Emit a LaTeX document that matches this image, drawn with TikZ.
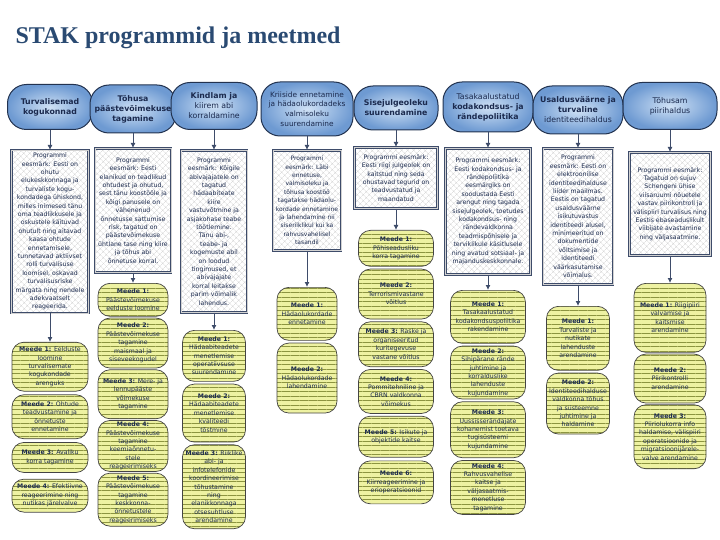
\documentclass[tikz,border=0pt]{standalone}
\usepackage{fontspec}
\setmainfont{DejaVu Sans}
\newfontfamily\titlefont{Liberation Serif}
\usepackage{xcolor}
\usetikzlibrary{arrows.meta,positioning,patterns.meta}
\definecolor{titleblue}{HTML}{2A4A72}
\definecolor{hdin}{HTML}{CFE1F5}
\definecolor{hdout}{HTML}{6E9AD2}
\definecolor{hdline}{HTML}{22324F}
\definecolor{navy}{HTML}{1B2A4E}
\definecolor{progline}{HTML}{3E4C6A}
\definecolor{measfill}{HTML}{EEF2A2}
\definecolor{measline}{HTML}{8C9440}
\definecolor{measdraw}{HTML}{444444}

\begin{document}
\begin{tikzpicture}[x=1pt, y=-1pt,
goal/.style={draw=hdline, line width=1pt, rounded corners=19pt, inner color=hdin, outer color=hdout, align=center, text=navy, font=\fontsize{7.8}{10}\selectfont, inner sep=1pt},
goalb/.style={goal, font=\fontsize{7.8}{10}\selectfont\bfseries},
prog/.style={draw=progline, line width=0.9pt, double=gray!35, double distance=0.7pt, preaction={fill=white}, pattern={Hatch[angle=45,distance=4pt,line width=0.3pt]}, pattern color=gray!35, align=center, text=navy, font=\fontsize{6.2}{8.4}\selectfont, inner sep=1pt, anchor=north},
measure/.style={draw=measdraw, line width=0.7pt, rounded corners=12pt, preaction={fill=measfill}, pattern={Lines[angle=0,distance=4.5pt,line width=0.4pt]}, pattern color=measline, align=center, text=navy, font=\fontsize{6.2}{8.4}\selectfont, inner sep=1pt},
arrow/.style={-{Latex[length=5pt,width=5pt]}, line width=0.9pt, draw=progline}
]
\useasboundingbox (0,0) rectangle (720,540);
\node[anchor=base west, text=titleblue, font=\titlefont\fontsize{24}{28}\selectfont\bfseries] (title) at (12,44) {STAK programmid ja meetmed};

\node[goalb, minimum width=85, minimum height=45] (h1) at (50,107) {Turvalisemad\\kogukonnad};
\node[goalb, minimum width=86, minimum height=48] (h2) at (133,109) {Tõhusa\\päästevõimekuse\\tagamine};
\node[goal, minimum width=86, minimum height=47] (h3) at (214,106) {\textbf{Kindlam ja}\\kiirem abi\\korraldamine};
\node[goal, minimum width=92, minimum height=54, font=\fontsize{7.4}{9.6}\selectfont] (h4) at (307,109) {Kriiside ennetamine\\ja hädaolukordadeks\\valmisoleku\\suurendamine};
\node[goalb, minimum width=84, minimum height=44] (h5) at (396,108) {Sisejulgeoleku\\suurendamine};
\node[goal, minimum width=90, minimum height=50] (h6) at (488,107) {Tasakaalustatud\\\textbf{kodakondsus- ja}\\\textbf{rändepoliitika}};
\node[goal, minimum width=90, minimum height=48] (h7) at (578,110) {\textbf{Usaldusväärne ja}\\\textbf{turvaline}\\identiteedihaldus};
\node[goal, minimum width=94, minimum height=47] (h8) at (670,106) {Tõhusam\\piirihaldus};

\node[prog, minimum width=77, minimum height=163] (p1) at (50,150) {Programmi\\eesmärk: Eesti on\\ohutu\\elukeskkonnaga ja\\turvaliste kogu-\\kondadega ühiskond,\\milles inimesed tänu\\oma teadlikkusele ja\\oskustele käituvad\\ohutult ning aitavad\\kaasa ohtude\\ennetamisele,\\tunnetavad aktiivset\\rolli turvalisuse\\loomisel, oskavad\\turvalisusriske\\märgata ning nendele\\adekvaatselt\\reageerida.};
\node[prog, minimum width=76, minimum height=124] (p2) at (133,148) {Programmi\\eesmärk: Eesti\\elanikud on teadlikud\\ohtudest ja ohutud,\\sest tänu koostööle ja\\kõigi panusele on\\vähenenud\\õnnetusse sattumise\\risk, tagatud on\\päästevõimekuse\\ühtlane tase ning kiire\\ja tõhus abi\\õnnetuse korral.};
\node[prog, minimum width=66, minimum height=162] (p3) at (214,150) {Programmi\\eesmärk: Kõigile\\abivajajatele on\\tagatud\\hädaabiteate\\kiire\\vastuvõtmine ja\\asjakohase teabe\\töötlemine.\\Tänu abi-,\\teabe- ja\\kogemuste abil\\on loodud\\tingimused, et\\abivajajate\\korral leitakse\\parim võimalik\\lahendus.};
\node[prog, minimum width=68, minimum height=100, font=\fontsize{6}{8.4}\selectfont] (p4) at (307,150) {Programmi\\eesmärk: Läbi\\ennetuse,\\valmisoleku ja\\tõhusa koostöö\\tagatakse hädaolu-\\kordade ennetamine\\ja lahendamine nii\\siseriiklikul kui ka\\rahvusvahelisel\\tasandil};
\node[prog, minimum width=83, minimum height=61] (p5) at (396,147) {Programmi eesmärk:\\Eesti riigi julgeolek on\\kaitstud ning seda\\ohustavad tegurid on\\teadvustatud ja\\maandatud};
\node[prog, minimum width=85, minimum height=126] (p6) at (488,148) {Programmi eesmärk:\\Eesti kodakondsus- ja\\rändepoliitika\\eesmärgiks on\\soodustada Eesti\\arengut ning tagada\\sisejulgeolek, toetudes\\kodakondsus- ning\\rändevaldkonna\\teadmispõhisele ja\\terviklikule käsitlusele\\ning avatud sotsiaal- ja\\majanduskeskkonnale.};
\node[prog, minimum width=70, minimum height=136] (p7) at (578,148) {Programmi\\eesmärk: Eesti on\\elektroonilise\\identiteedihalduse\\liider maailmas.\\Eestis on tagatud\\usaldusväärne\\isikutuvastus\\identiteedi alusel,\\minimeeritud on\\dokumentide\\võltsimise ja\\identiteedi\\väärkasutamise\\võimalus.};
\node[prog, minimum width=81, minimum height=103] (p8) at (670,152) {Programmi eesmärk:\\Tagatud on sujuv\\Schengeni ühise\\viisaruumi nõuetele\\vastav piirikontroll ja\\välispiiri turvalisus ning\\Eestis ebaseaduslikult\\viibijate avastamine\\ning väljasaatmine.};

\node[measure, anchor=north, minimum width=76, minimum height=49] (m11) at (50,342) {\textbf{Meede 1:} Eelduste\\loomine\\turvalisemate\\kogukondade\\arenguks};
\node[measure, below=3pt of m11, minimum width=76, minimum height=44] (m12) {\textbf{Meede 2:} Ohtude\\teadvustamine ja\\õnnetuste\\ennetamine};
\node[measure, below=3pt of m12, minimum width=76, minimum height=30] (m13) {\textbf{Meede 3:} Avaliku\\korra tagamine};
\node[measure, below=6pt of m13, minimum width=76, minimum height=33] (m14) {\textbf{Meede 4:} Efektiivne\\reageerimine ning\\nutikas järelvalve};

\node[measure, anchor=north, minimum width=70, minimum height=33] (m21) at (133,283) {\textbf{Meede 1:}\\Päästevõimekuse\\eelduste loomine};
\node[measure, below=1pt of m21, minimum width=70, minimum height=50] (m22) {\textbf{Meede 2:}\\Päästevõimekuse\\tagamine\\maismaal ja\\siseveekogudel};
\node[measure, below=1pt of m22, minimum width=70, minimum height=49] (m23) {\textbf{Meede 3:} Mere- ja\\lennupääste\\võimekuse\\tagamine};
\node[measure, below=1pt of m23, minimum width=70, minimum height=51] (m24) {\textbf{Meede 4:}\\Päästevõimekuse\\tagamine\\keemiaõnnetu-\\stele\\reageerimiseks};
\node[measure, below=1pt of m24, minimum width=70, minimum height=53] (m25) {\textbf{Meede 5:}\\Päästevõimekuse\\tagamine\\keskkonna-\\õnnetustele\\reageerimiseks};

\node[measure, anchor=north, minimum width=63, minimum height=51] (m31) at (214,330) {\textbf{Meede 1:}\\Hädaabiteadete\\menetlemise\\operatiivsuse\\suurendamine};
\node[measure, below=2pt of m31, minimum width=63, minimum height=58] (m32) {\textbf{Meede 2:}\\Hädaabiteadete\\menetlemise\\kvaliteedi\\tõstmine};
\node[measure, below=2pt of m32, minimum width=63, minimum height=84] (m33) {\textbf{Meede 3:} Riiklike\\abi- ja\\infotelefonide\\koordineerimise\\tõhustamine\\ning\\elanikkonnaga\\otsesuhtluse\\arendamine};

\node[measure, anchor=north, minimum width=60, minimum height=53] (m41) at (307,287) {\textbf{Meede 1:}\\Hädaolukordade\\ennetamine};
\node[measure, below=2pt of m41, minimum width=60, minimum height=70] (m42) {\textbf{Meede 2:}\\Hädaolukordade\\lahendamine};

\node[measure, anchor=north, minimum width=75, minimum height=36] (m51) at (396,230) {\textbf{Meede 1:}\\Põhiseadusliku\\korra tagamine};
\node[measure, below=2pt of m51, minimum width=75, minimum height=50] (m52) {\textbf{Meede 2:}\\Terrorismivastane\\võitlus};
\node[measure, below=2pt of m52, minimum width=75, minimum height=45] (m53) {\textbf{Meede 3:} Raske ja\\organiseeritud\\kuritegevuse\\vastane võitlus};
\node[measure, below=2pt of m53, minimum width=75, minimum height=44] (m54) {\textbf{Meede 4:}\\Pommitehniline ja\\CBRN valdkonna\\võimekus};
\node[measure, below=2pt of m54, minimum width=75, minimum height=41] (m55) {\textbf{Meede 5:} Isikute ja\\objektide kaitse};
\node[measure, below=3pt of m55, minimum width=75, minimum height=43] (m56) {\textbf{Meede 6:}\\Kiirreageerimine ja\\erioperatsioonid};

\node[measure, anchor=north, minimum width=75, minimum height=53] (m61) at (488,290) {\textbf{Meede 1:}\\Tasakaalustatud\\kodakondsuspoliitika\\rakendamine};
\node[measure, below=2pt of m61, minimum width=75, minimum height=53] (m62) {\textbf{Meede 2:}\\Sihipärane rände\\juhtimine ja\\korralduslike\\lahenduste\\kujundamine};
\node[measure, below=2pt of m62, minimum width=75, minimum height=56] (m63) {\textbf{Meede 3:}\\Uussisserändajate\\kohanemist toetava\\tugisüsteemi\\kujundamine};
\node[measure, below=2pt of m63, minimum width=75, minimum height=54] (m64) {\textbf{Meede 4:}\\Rahvusvahelise\\kaitse ja\\väljasaatmis-\\menetluse\\tagamine};

\node[measure, anchor=north, minimum width=63, minimum height=64] (m71) at (578,306) {\textbf{Meede 1:}\\Turvaliste ja\\nutikate\\lahenduste\\arendamine};
\node[measure, below=2pt of m71, minimum width=63, minimum height=61] (m72) {\textbf{Meede 2:}\\Identiteedihalduse\\valdkonna tõhus\\ja süsteemne\\juhtimine ja\\haldamine};

\node[measure, anchor=north, minimum width=72, minimum height=69] (m81) at (670,283) {\textbf{Meede 1:} Riigipiiri\\valvamise ja\\kaitsmise\\arendamine};
\node[measure, below=1pt of m81, minimum width=72, minimum height=49] (m82) {\textbf{Meede 2:}\\Piirikontrolli\\arendamine};
\node[measure, below=1pt of m82, minimum width=72, minimum height=64] (m83) {\textbf{Meede 3:}\\Piiriolukorra info\\haldamise, välispiiri\\operatsioonide ja\\migratsioonijärele-\\valve arendamine};

\draw[arrow] (h1) -- (p1);
\draw[arrow] (h2) -- (p2);
\draw[arrow] (h3) -- (p3);
\draw[arrow] (h4) -- (p4);
\draw[arrow] (h5) -- (p5);
\draw[arrow] (h6) -- (p6);
\draw[arrow] (h7) -- (p7);
\draw[arrow] (h8) -- (p8);
\draw[arrow] (p1) -- (m11);
\draw[arrow] (p2) -- (m21);
\draw[arrow] (p3) -- (m31);
\draw[arrow] (p4) -- (m41);
\draw[arrow] (p5) -- (m51);
\draw[arrow] (p6) -- (m61);
\draw[arrow] (p7) -- (m71);
\draw[arrow] (p8) -- (m81);
\end{tikzpicture}
\end{document}
